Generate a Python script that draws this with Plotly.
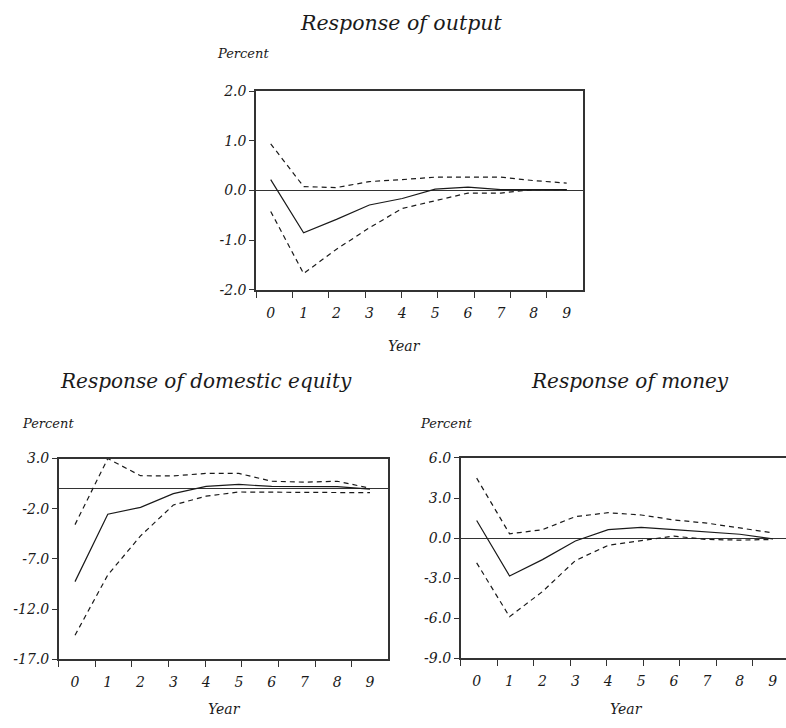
import plotly.graph_objects as go

# Impulse responses over a ten-year horizon: central estimate and error bands
years = list(range(10))
year_labels = [str(y) for y in years]

output_mid = [0.22, -0.85, -0.58, -0.29, -0.16, 0.03, 0.07, 0.02, 0.02, 0.02]
output_hi = [0.94, 0.08, 0.06, 0.18, 0.22, 0.27, 0.27, 0.27, 0.20, 0.15]
output_lo = [-0.42, -1.67, -1.18, -0.75, -0.36, -0.20, -0.05, -0.05, 0.02, 0.02]

equity_mid = [-9.26, -2.54, -1.86, -0.49, 0.22, 0.42, 0.22, 0.20, 0.20, -0.05]
equity_hi = [-3.58, 3.00, 1.29, 1.27, 1.52, 1.52, 0.74, 0.65, 0.74, 0.05]
equity_lo = [-14.6, -8.6, -4.7, -1.63, -0.75, -0.33, -0.35, -0.38, -0.40, -0.40]

money_mid = [1.32, -2.83, -1.61, -0.22, 0.63, 0.80, 0.63, 0.46, 0.29, -0.05]
money_hi = [4.49, 0.32, 0.63, 1.61, 1.90, 1.73, 1.36, 1.12, 0.76, 0.39]
money_lo = [-1.85, -5.88, -4.00, -1.68, -0.54, -0.17, 0.15, -0.10, -0.15, -0.10]

output_yticks = [2.0, 1.0, 0.0, -1.0, -2.0]
equity_yticks = [3.0, -2.0, -7.0, -12.0, -17.0]
money_yticks = [6.0, 3.0, 0.0, -3.0, -6.0, -9.0]

FONT = "DejaVu Serif"
INK = "#1a1a1a"
AXIS = "#333333"

panels = [
    # (suffix, mid, hi, lo, yticks, xdomain, ydomain, xrange, tick spacing, mirror y)
    ("", output_mid, output_hi, output_lo, output_yticks,
     [0.3257, 0.7421], [0.6040, 0.8832], [-0.447, 9.505], 1.1058, True),
    ("2", equity_mid, equity_hi, equity_lo, equity_yticks,
     [0.0747, 0.4940], [0.0852, 0.3672], [-0.497, 9.558], 1.1173, True),
    ("3", money_mid, money_hi, money_lo, money_yticks,
     [0.5861, 1.0], [0.0865, 0.3681], [-0.486, 9.404], 1.1092, False),
]

fig = go.Figure()
layout = {}

for sfx, mid, hi, lo, yt, xd, yd, xr, step, mirror_y in panels:
    xa, ya = "x" + sfx, "y" + sfx
    for vals, dash in ((hi, "5px,4px"), (lo, "5px,4px"), (mid, "solid")):
        fig.add_trace(go.Scatter(
            x=years, y=vals, mode="lines", xaxis=xa, yaxis=ya,
            line=dict(color=INK, width=1.2, dash=dash),
            showlegend=False, hoverinfo="skip"))
    # boundary tick marks spaced evenly across the frame
    marks = [xr[0] + k * step for k in range(10) if xr[0] + k * step <= xr[1] + 1e-6]
    layout["xaxis" + sfx] = dict(
        domain=xd, range=xr, anchor=ya,
        tickmode="array", tickvals=years, ticktext=year_labels, ticks="",
        ticklabelstandoff=9,
        tickfont=dict(family=FONT, size=14, style="italic", color=INK),
        showline=True, linecolor=AXIS, linewidth=1.5, mirror=True,
        showgrid=False, zeroline=False,
        minor=dict(tickmode="array", tickvals=marks, ticks="outside",
                   ticklen=6, tickwidth=1.3, tickcolor=AXIS, showgrid=False),
    )
    layout["yaxis" + sfx] = dict(
        domain=yd, range=[yt[-1], yt[0]], anchor=xa,
        tickmode="array", tickvals=yt, ticktext=[f"{v:.1f}" for v in yt],
        ticks="outside", ticklen=5, tickwidth=1.3, tickcolor=AXIS,
        tickfont=dict(family=FONT, size=14, style="italic", color=INK),
        showline=True, linecolor=AXIS, linewidth=1.5, mirror=mirror_y,
        showgrid=False, zeroline=True, zerolinecolor=AXIS, zerolinewidth=1,
    )


def note(text, x, y, size, xanchor="center"):
    return dict(text=text, x=x, y=y, xref="paper", yref="paper",
                xanchor=xanchor, yanchor="middle", showarrow=False,
                font=dict(family=FONT, size=size, style="italic", color=INK))


annotations = [
    note("Response of output", 401 / 786, 1 - 15 / 728, 20.5),
    note("Response of domestic equity", 206 / 786, 1 - 381 / 728, 20),
    note("Response of money", 630 / 786, 1 - 381 / 728, 20),
    note("Percent", 215 / 786, 1 - 47 / 728, 13, "left"),
    note("Percent", 20 / 786, 1 - 425 / 728, 13, "left"),
    note("Percent", 418 / 786, 1 - 425 / 728, 13, "left"),
    note("Year", 404 / 786, 1 - 346 / 728, 14),
    note("Year", 224 / 786, 1 - 717 / 728, 14),
    note("Year", 626 / 786, 1 - 717 / 728, 14),
]

fig.update_layout(
    width=786, height=728,
    margin=dict(l=0, r=0, t=0, b=0),
    paper_bgcolor="white", plot_bgcolor="white",
    annotations=annotations,
    **layout,
)

fig.write_html("out.html")
